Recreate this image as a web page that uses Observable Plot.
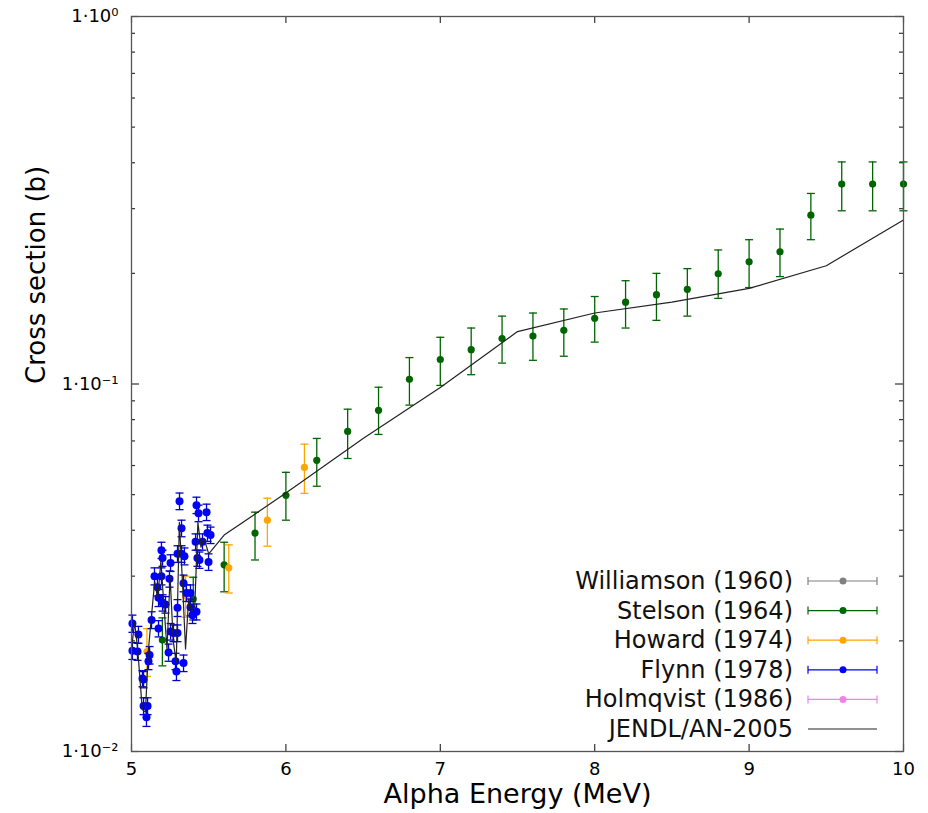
<!DOCTYPE html>
<html><head><meta charset="utf-8">
<script src="https://cdn.jsdelivr.net/npm/d3@7"></script>
<script src="https://cdn.jsdelivr.net/npm/@observablehq/plot@0.6"></script>
<style>body{margin:0;background:#fff;} #chart{width:928px;height:813px;}</style>
</head><body><div id="chart"></div>
<script>
// ---- Data ----
const xTicks = [5, 6, 7, 8, 9, 10];
const yTicks = [0.01, 0.1, 1];
const yTickLabels = ["1·10⁻²", "1·10⁻¹", "1·10⁰"];
const yMinor = [0.02,0.03,0.04,0.05,0.06,0.07,0.08,0.09,0.2,0.3,0.4,0.5,0.6,0.7,0.8,0.9];

const seriesNames = ["Williamson (1960)", "Stelson (1964)", "Howard (1974)", "Flynn (1978)", "Holmqvist (1986)", "JENDL/AN-2005"];
const seriesColors = ["#808080", "#006400", "#ffa500", "#0000ff", "#ee82ee", "#222222"];

// Stelson (1964)
const stelsonE  = [5.2, 5.4, 5.6, 5.8, 6.0, 6.2, 6.4, 6.6, 6.8, 7.0, 7.2, 7.4, 7.6, 7.8, 8.0, 8.2, 8.4, 8.6, 8.8, 9.0, 9.2, 9.4, 9.6, 9.8, 10.0];
const stelsonXS = [0.0201, 0.0260, 0.0322, 0.0393, 0.0498, 0.0620, 0.0743, 0.0848, 0.103, 0.1166, 0.124, 0.133, 0.135, 0.140, 0.151, 0.167, 0.175, 0.181, 0.1995, 0.215, 0.229, 0.288, 0.350, 0.350, 0.350];
const stelsonLo = [0.0171, 0.0228, 0.0272, 0.0332, 0.0426, 0.0527, 0.0627, 0.0729, 0.0876, 0.0991, 0.106, 0.114, 0.116, 0.119, 0.130, 0.142, 0.149, 0.153, 0.171, 0.183, 0.196, 0.247, 0.296, 0.296, 0.296];
const stelsonHi = [0.0231, 0.0298, 0.0371, 0.0448, 0.0575, 0.0711, 0.0854, 0.098, 0.118, 0.134, 0.142, 0.153, 0.156, 0.160, 0.173, 0.191, 0.200, 0.206, 0.2316, 0.247, 0.264, 0.330, 0.402, 0.402, 0.402];

// Howard (1974)
const howardE  = [5.10, 5.35, 5.63, 5.88, 6.12];
const howardXS = [0.0187, 0.0265, 0.0316, 0.0426, 0.0593];
const howardLo = [0.0160, 0.0232, 0.0270, 0.0362, 0.0504];
const howardHi = [0.0216, 0.0300, 0.0365, 0.0489, 0.0686];

// Flynn (1978)
const flynnE   = [5.006, 5.006, 5.039, 5.045, 5.071, 5.078, 5.078, 5.104, 5.097, 5.117, 5.110, 5.130, 5.149, 5.168, 5.175, 5.175, 5.194, 5.201, 5.194, 5.201, 5.220, 5.240, 5.253, 5.246, 5.253, 5.272, 5.285, 5.291, 5.298, 5.298, 5.311, 5.324, 5.298, 5.324, 5.343, 5.337, 5.337, 5.356, 5.382, 5.382, 5.395, 5.421, 5.421, 5.434, 5.415, 5.427, 5.440, 5.460, 5.486, 5.499, 5.512, 5.492];
const flynnXS  = [0.0223, 0.0188, 0.0187, 0.0208, 0.0158, 0.0157, 0.0133, 0.0133, 0.0124, 0.0183, 0.0176, 0.0228, 0.0300, 0.0280, 0.0262, 0.0216, 0.0353, 0.0336, 0.0300, 0.0254, 0.0251, 0.0186, 0.0326, 0.0295, 0.0212, 0.0210, 0.0176, 0.0165, 0.0210, 0.0246, 0.0480, 0.0405, 0.0345, 0.0345, 0.0340, 0.0287, 0.0174, 0.0270, 0.0270, 0.0247, 0.0235, 0.0240, 0.0468, 0.0445, 0.0372, 0.0336, 0.0332, 0.0372, 0.0448, 0.0328, 0.0388, 0.0393];
const flynnErr = [0.0012, 0.0010, 0.0010, 0.0011, 0.0008, 0.0008, 0.0007, 0.0007, 0.0007, 0.0010, 0.0009, 0.0012, 0.0016, 0.0015, 0.0014, 0.0011, 0.0018, 0.0017, 0.0016, 0.0013, 0.0013, 0.0010, 0.0017, 0.0015, 0.0011, 0.0011, 0.0009, 0.0009, 0.0011, 0.0013, 0.0025, 0.0021, 0.0018, 0.0018, 0.0018, 0.0015, 0.0009, 0.0014, 0.0014, 0.0013, 0.0012, 0.0012, 0.0024, 0.0023, 0.0019, 0.0017, 0.0017, 0.0019, 0.0023, 0.0017, 0.0020, 0.0020];

// JENDL/AN-2005 evaluation
const jendlE  = [5.00, 5.02, 5.04, 5.07, 5.09, 5.11, 5.13, 5.15, 5.17, 5.19, 5.21, 5.23, 5.25, 5.27, 5.29, 5.31, 5.33, 5.35, 5.37, 5.39, 5.41, 5.43, 5.45, 5.47, 5.50, 5.60, 6.0, 6.5, 7.0, 7.5, 8.0, 8.5, 9.0, 9.5, 10.0];
const jendlXS = [0.0190, 0.0225, 0.0190, 0.0130, 0.0128, 0.0190, 0.0235, 0.0290, 0.0260, 0.0330, 0.0250, 0.0190, 0.0300, 0.0200, 0.0175, 0.0420, 0.0290, 0.0190, 0.0260, 0.0240, 0.0250, 0.0420, 0.0360, 0.0380, 0.0345, 0.0388, 0.0505, 0.0711, 0.0978, 0.1389, 0.156, 0.167, 0.182, 0.2098, 0.2795];

// ---- Tables ----
const stelson = stelsonE.map((e, i) => ({e, v: stelsonXS[i], lo: stelsonLo[i], hi: stelsonHi[i]}));
const howard  = howardE.map((e, i) => ({e, v: howardXS[i], lo: howardLo[i], hi: howardHi[i]}));
const flynn   = flynnE.map((e, i) => ({e, v: flynnXS[i], lo: flynnXS[i] - flynnErr[i], hi: flynnXS[i] + flynnErr[i]}));
const jendl   = jendlE.map((e, i) => ({e, v: jendlXS[i]}));

// ---- Layout ----
const W = 928, H = 813;
const mL = 131, mR = 25, mT = 16, mB = 62;
const fw = W - mL - mR, fh = H - mT - mB;

const capSymbol = {
  draw(context, size) {
    const r = Math.sqrt(size / Math.PI);
    context.moveTo(-r, 0);
    context.lineTo(r, 0);
  }
};

function errorMarks(data, color, barColor, r) {
  return [
    Plot.ruleX(data, {x: "e", y1: "lo", y2: "hi", stroke: barColor, strokeWidth: 1.3}),
    Plot.dot(data, {x: "e", y: "lo", symbol: capSymbol, r: 4, stroke: barColor, strokeWidth: 1.3, fill: "none"}),
    Plot.dot(data, {x: "e", y: "hi", symbol: capSymbol, r: 4, stroke: barColor, strokeWidth: 1.3, fill: "none"}),
    Plot.dot(data, {x: "e", y: "v", r, fill: color, stroke: "none"})
  ];
}

const tickLabel = new Map(yTicks.map((t, i) => [t, yTickLabels[i]]));

const plot = Plot.plot({
  width: W, height: H,
  marginLeft: mL, marginRight: mR, marginTop: mT, marginBottom: mB,
  style: {fontFamily: "DejaVu Sans", background: "#fff", color: "#000"},
  x: {domain: [5, 10]},
  y: {type: "log", domain: [0.01, 1]},
  marks: [
    // inward tick marks
    Plot.tickY(yTicks, {y: d => d, insetRight: fw - 8, stroke: "#333", strokeWidth: 1.2}),
    Plot.tickY(yTicks, {y: d => d, insetLeft: fw - 8, stroke: "#333", strokeWidth: 1.2}),
    Plot.tickY(yMinor, {y: d => d, insetRight: fw - 4, stroke: "#333", strokeWidth: 1.2}),
    Plot.tickY(yMinor, {y: d => d, insetLeft: fw - 4, stroke: "#333", strokeWidth: 1.2}),
    Plot.tickX(xTicks, {x: d => d, insetTop: fh - 7, stroke: "#333", strokeWidth: 1.2}),
    Plot.tickX(xTicks, {x: d => d, insetBottom: fh - 7, stroke: "#333", strokeWidth: 1.2}),
    Plot.axisY({ticks: yTicks, tickFormat: d => tickLabel.get(d), tickSize: 0, tickPadding: 13, fontSize: 18, label: null}),
    Plot.axisX({ticks: xTicks, tickFormat: d => String(d), tickSize: 0, tickPadding: 11, fontSize: 18, label: null}),
    // data
    ...errorMarks(stelson, "#006400", "#006400", 3.6),
    ...errorMarks(howard, "#ffa500", "#ffa500", 3.6),
    ...errorMarks(flynn, "#0000ff", "#0000cc", 4),
    Plot.line(jendl, {x: "e", y: "v", stroke: "#222", strokeWidth: 1.2}),
    Plot.frame({stroke: "#555", strokeWidth: 1.3}),
    // titles
    Plot.text(["Alpha Energy (MeV)"], {frameAnchor: "bottom", dy: 51, text: d => d, fontSize: 27, fill: "#000"}),
    Plot.text(["Cross section (b)"], {frameAnchor: "left", dx: -95, rotate: -90, text: d => d, fontSize: 26, fill: "#000"})
  ]
});

document.getElementById("chart").appendChild(plot);

// ---- Legend (inside the plot, bottom right) ----
const svg = d3.select(plot);
const lg = svg.append("g").attr("font-family", "DejaVu Sans");
seriesNames.forEach((name, i) => {
  const y = 581 + i * 29.6;
  const c = seriesColors[i];
  lg.append("text").attr("x", 793).attr("y", y).attr("text-anchor", "end")
    .attr("dominant-baseline", "central").attr("font-size", 24).attr("fill", "#111").text(name);
  lg.append("line").attr("x1", 808).attr("x2", 877).attr("y1", y).attr("y2", y)
    .attr("stroke", c).attr("stroke-width", 1.2);
  if (i < seriesNames.length - 1) {
    [808, 877].forEach(x => lg.append("line").attr("x1", x).attr("x2", x)
      .attr("y1", y - 4).attr("y2", y + 4).attr("stroke", c).attr("stroke-width", 1.2));
    lg.append("circle").attr("cx", 843).attr("cy", y).attr("r", 3.5).attr("fill", c);
  }
});
</script>
</body></html>
